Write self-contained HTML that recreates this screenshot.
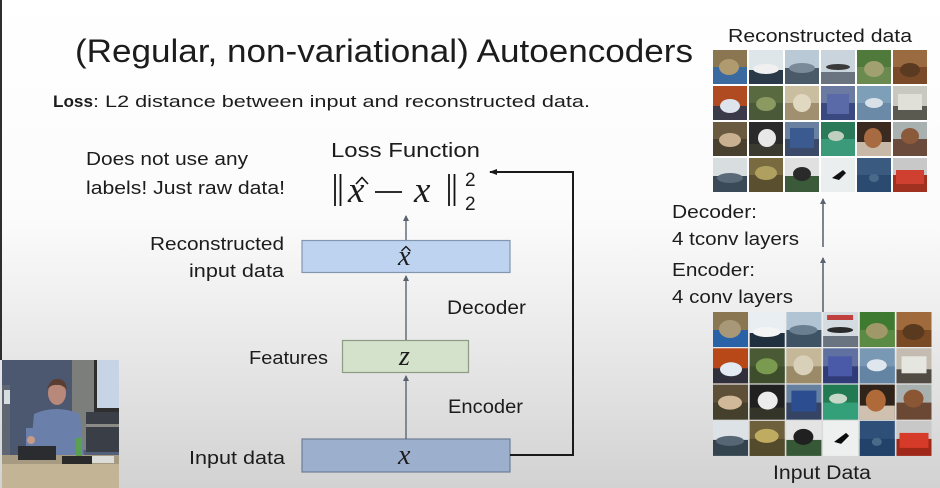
<!DOCTYPE html>
<html><head><meta charset="utf-8">
<style>
html,body{margin:0;padding:0;background:#fff;}
svg{display:block;}
text{font-family:"Liberation Sans",sans-serif;fill:#1c1c1c;}
text.m{font-family:"Liberation Serif",serif;font-style:italic;}
</style></head>
<body>
<svg width="940" height="488" viewBox="0 0 940 488" xmlns="http://www.w3.org/2000/svg">
<defs>
<linearGradient id="bg" x1="0" y1="0" x2="0" y2="1">
<stop offset="0" stop-color="#ffffff"/>
<stop offset="0.45" stop-color="#fbfbfb"/>
<stop offset="0.7" stop-color="#e9e9e9"/>
<stop offset="1" stop-color="#d2d2d2"/>
</linearGradient>
<marker id="ah" markerWidth="6" markerHeight="6" refX="5" refY="3" orient="auto" markerUnits="userSpaceOnUse">
<path d="M0,0 L6,3 L0,6 z" fill="#5a6470"/>
</marker>
<marker id="ah2" markerWidth="8" markerHeight="8" refX="7" refY="4" orient="auto" markerUnits="userSpaceOnUse">
<path d="M0,1 L8,4 L0,7 z" fill="#1a1a1a"/>
</marker>
</defs>
<rect x="0" y="0" width="940" height="488" fill="url(#bg)"/>
<rect x="0" y="0" width="2" height="360" fill="#2e2e2e"/>

<!-- Title -->
<text x="75" y="62" font-size="32" textLength="618" lengthAdjust="spacingAndGlyphs" fill="#222">(Regular, non-variational) Autoencoders</text>
<text x="53" y="107" font-size="17" font-weight="bold" textLength="40" lengthAdjust="spacingAndGlyphs">Loss</text>
<text x="93" y="107" font-size="17" textLength="497" lengthAdjust="spacingAndGlyphs">: L2 distance between input and reconstructed data.</text>

<text x="86" y="165" font-size="18" textLength="162" lengthAdjust="spacingAndGlyphs">Does not use any</text>
<text x="86" y="194" font-size="18" textLength="199" lengthAdjust="spacingAndGlyphs">labels! Just raw data!</text>

<text x="331" y="157" font-size="20" textLength="149" lengthAdjust="spacingAndGlyphs">Loss Function</text>

<!-- Formula -->
<g stroke="#111" stroke-width="1.8">
<line x1="335" y1="174" x2="335" y2="206"/>
<line x1="340.5" y1="174" x2="340.5" y2="206"/>
<line x1="449" y1="174" x2="449" y2="206"/>
<line x1="454.5" y1="174" x2="454.5" y2="206"/>
<line x1="375" y1="192" x2="402" y2="192"/>
</g>
<text class="m" x="348" y="202" font-size="37" fill="#111">x</text>
<path d="M356,184 L362,177.5 L368,184" fill="none" stroke="#111" stroke-width="1.6"/>
<text class="m" x="414" y="202" font-size="37" fill="#111">x</text>
<text x="465" y="186" font-size="19" fill="#111">2</text>
<text x="465" y="210" font-size="19" fill="#111">2</text>

<!-- Labels left -->
<text x="150" y="250" font-size="18" textLength="134" lengthAdjust="spacingAndGlyphs">Reconstructed</text>
<text x="189" y="277" font-size="18" textLength="95" lengthAdjust="spacingAndGlyphs">input data</text>
<text x="249" y="364" font-size="18" textLength="79" lengthAdjust="spacingAndGlyphs">Features</text>
<text x="189" y="464" font-size="18" textLength="96" lengthAdjust="spacingAndGlyphs">Input data</text>
<text x="447" y="314" font-size="19" textLength="79" lengthAdjust="spacingAndGlyphs">Decoder</text>
<text x="448" y="413" font-size="19" textLength="75" lengthAdjust="spacingAndGlyphs">Encoder</text>

<!-- Boxes -->
<rect x="302" y="240.5" width="208" height="32" fill="#bdd3f0" stroke="#8396b0" stroke-width="1.2"/>
<text class="m" x="398" y="265" font-size="28" fill="#111">x</text>
<path d="M401.5,251 L406,246.5 L410.5,251" fill="none" stroke="#111" stroke-width="1.3"/>
<rect x="342.5" y="340.5" width="126" height="32" fill="#d4e2cb" stroke="#8c9c84" stroke-width="1.2"/>
<text class="m" x="399" y="365" font-size="28" fill="#111">z</text>
<rect x="302" y="439" width="208" height="33" fill="#9cafcc" stroke="#6f7e95" stroke-width="1.2"/>
<text class="m" x="398" y="464" font-size="28" fill="#111">x</text>

<!-- Connectors -->
<g stroke="#5a6470" stroke-width="1.4" fill="none">
<line x1="406" y1="439" x2="406" y2="376" marker-end="url(#ah)"/>
<line x1="406" y1="340" x2="406" y2="276" marker-end="url(#ah)"/>
<line x1="406" y1="240" x2="406" y2="216" marker-end="url(#ah)"/>
</g>
<path d="M510,455 L573,455 L573,172 L490,172" fill="none" stroke="#1a1a1a" stroke-width="2" marker-end="url(#ah2)"/>

<!-- Right side texts -->
<text x="728" y="42" font-size="18" textLength="184" lengthAdjust="spacingAndGlyphs">Reconstructed data</text>
<text x="672" y="218" font-size="18" textLength="85" lengthAdjust="spacingAndGlyphs">Decoder:</text>
<text x="672" y="245" font-size="18" textLength="127" lengthAdjust="spacingAndGlyphs">4 tconv layers</text>
<text x="672" y="276" font-size="18" textLength="83" lengthAdjust="spacingAndGlyphs">Encoder:</text>
<text x="672" y="303" font-size="18" textLength="121" lengthAdjust="spacingAndGlyphs">4 conv layers</text>
<text x="773" y="479" font-size="19" textLength="98" lengthAdjust="spacingAndGlyphs">Input Data</text>
<g stroke="#4a5260" stroke-width="1.4" fill="none">
<line x1="823" y1="247" x2="823" y2="199" marker-end="url(#ah)"/>
<line x1="823" y1="312" x2="823" y2="258" marker-end="url(#ah)"/>
</g>

<!-- Reconstructed grid -->
<g>
<g transform="translate(713,50)"><rect width="34" height="34" fill="#8a7650"/><rect y="17" width="34" height="17" fill="#3a6aa0"/><ellipse cx="16" cy="17" rx="10" ry="8" fill="#b09a70"/></g>
<g transform="translate(749,50)"><rect width="34" height="34" fill="#dfe6ea"/><rect y="20" width="34" height="14" fill="#2a3a48"/><ellipse cx="17" cy="19" rx="13" ry="5" fill="#f0f0f0"/></g>
<g transform="translate(785,50)"><rect width="34" height="34" fill="#b9c9d6"/><rect y="18" width="34" height="16" fill="#4a5a68"/><ellipse cx="17" cy="18" rx="13" ry="5" fill="#7a8a98"/></g>
<g transform="translate(821,50)"><rect width="34" height="34" fill="#c9d4dc"/><rect y="22" width="34" height="12" fill="#6a7480"/><ellipse cx="17" cy="17" rx="12" ry="3" fill="#3a3a3a"/></g>
<g transform="translate(857,50)"><rect width="34" height="34" fill="#4f7a3c"/><rect y="17" width="34" height="17" fill="#6a8a50"/><ellipse cx="17" cy="19" rx="10" ry="8" fill="#a0a070"/></g>
<g transform="translate(893,50)"><rect width="34" height="34" fill="#9a6a40"/><rect y="17" width="34" height="17" fill="#7a4a28"/><ellipse cx="17" cy="20" rx="10" ry="7" fill="#5a3a20"/></g>
<g transform="translate(713,86)"><rect width="34" height="34" fill="#b04a20"/><rect y="20" width="34" height="14" fill="#3a3a48"/><ellipse cx="17" cy="20" rx="10" ry="7" fill="#dde4ee"/></g>
<g transform="translate(749,86)"><rect width="34" height="34" fill="#5a6a40"/><rect y="17" width="34" height="17" fill="#4a5a38"/><ellipse cx="17" cy="18" rx="10" ry="7" fill="#8a9a60"/></g>
<g transform="translate(785,86)"><rect width="34" height="34" fill="#c9bea0"/><rect y="17" width="34" height="17" fill="#a09070"/><ellipse cx="17" cy="17" rx="9" ry="9" fill="#e0d8c0"/></g>
<g transform="translate(821,86)"><rect width="34" height="34" fill="#6a7aa0"/><rect y="17" width="34" height="17" fill="#3a4a80"/><rect x="6" y="8" width="22" height="20" fill="#5a6aa8"/></g>
<g transform="translate(857,86)"><rect width="34" height="34" fill="#7d9fb8"/><rect y="17" width="34" height="17" fill="#6a8aa8"/><ellipse cx="17" cy="17" rx="9" ry="5" fill="#d8e0e8"/></g>
<g transform="translate(893,86)"><rect width="34" height="34" fill="#c8c8c0"/><rect y="20" width="34" height="14" fill="#5a5a50"/><rect x="5" y="8" width="24" height="16" fill="#e0e0d8"/></g>
<g transform="translate(713,122)"><rect width="34" height="34" fill="#6a5a40"/><rect y="17" width="34" height="17" fill="#4a4030"/><ellipse cx="17" cy="18" rx="11" ry="7" fill="#c8b090"/></g>
<g transform="translate(749,122)"><rect width="34" height="34" fill="#2a2a2a"/><rect y="22" width="34" height="12" fill="#3a3a30"/><ellipse cx="18" cy="16" rx="9" ry="9" fill="#e8e8e8"/></g>
<g transform="translate(785,122)"><rect width="34" height="34" fill="#6a80a0"/><rect y="17" width="34" height="17" fill="#3a4a68"/><rect x="5" y="6" width="24" height="20" fill="#3a5a90"/></g>
<g transform="translate(821,122)"><rect width="34" height="34" fill="#2a7a5a"/><rect y="17" width="34" height="17" fill="#3a9a7a"/><ellipse cx="15" cy="14" rx="8" ry="5" fill="#c0d0c0"/></g>
<g transform="translate(857,122)"><rect width="34" height="34" fill="#3a2a20"/><rect y="20" width="34" height="14" fill="#c8b8a8"/><ellipse cx="16" cy="16" rx="9" ry="10" fill="#a86a40"/></g>
<g transform="translate(893,122)"><rect width="34" height="34" fill="#a8b0b0"/><rect y="17" width="34" height="17" fill="#6a4a3a"/><ellipse cx="17" cy="14" rx="9" ry="8" fill="#8a5a3a"/></g>
<g transform="translate(713,158)"><rect width="34" height="34" fill="#d8dde0"/><rect y="18" width="34" height="16" fill="#3a4a58"/><ellipse cx="17" cy="20" rx="13" ry="5" fill="#5a6a78"/></g>
<g transform="translate(749,158)"><rect width="34" height="34" fill="#7a6a40"/><rect y="17" width="34" height="17" fill="#5a5030"/><ellipse cx="17" cy="15" rx="11" ry="7" fill="#b0a060"/></g>
<g transform="translate(785,158)"><rect width="34" height="34" fill="#e0e0e0"/><rect y="18" width="34" height="16" fill="#3a5a3a"/><ellipse cx="17" cy="16" rx="9" ry="7" fill="#2a2a2a"/></g>
<g transform="translate(821,158)"><rect width="34" height="34" fill="#eaeeee"/><path d="M11,20 L22,12 L25,15 L18,22 z" fill="#111"/></g>
<g transform="translate(857,158)"><rect width="34" height="34" fill="#3a5a80"/><rect y="17" width="34" height="17" fill="#2a4a70"/><ellipse cx="17" cy="20" rx="5" ry="4" fill="#4a6a8a"/></g>
<g transform="translate(893,158)"><rect width="34" height="34" fill="#c8c8c8"/><rect y="17" width="34" height="17" fill="#a03020"/><rect x="3" y="12" width="28" height="14" fill="#d04030"/></g>
</g>

<!-- Input grid -->
<g>
<g transform="translate(713,312)"><rect width="35" height="35" fill="#8a7650"/><rect y="18" width="35" height="17" fill="#2a62a8"/><ellipse cx="17" cy="17" rx="11" ry="9" fill="#a89878"/></g>
<g transform="translate(749.7,312)"><rect width="35" height="35" fill="#e8eef2"/><rect y="21" width="35" height="14" fill="#20303e"/><ellipse cx="17" cy="20" rx="14" ry="5" fill="#f4f4f4"/></g>
<g transform="translate(786.4,312)"><rect width="35" height="35" fill="#b0c4d4"/><rect y="18" width="35" height="17" fill="#3e5464"/><ellipse cx="17" cy="18" rx="14" ry="5" fill="#6a8090"/></g>
<g transform="translate(823.1,312)"><rect width="35" height="35" fill="#d4dce2"/><rect y="24" width="35" height="11" fill="#6a7480"/><rect x="4" y="3" width="26" height="5" fill="#c04040"/><ellipse cx="17" cy="18" rx="13" ry="3" fill="#2a2a2a"/></g>
<g transform="translate(859.8,312)"><rect width="35" height="35" fill="#3e7a30"/><rect y="18" width="35" height="17" fill="#5a8a44"/><ellipse cx="17" cy="19" rx="11" ry="8" fill="#a09868"/></g>
<g transform="translate(896.5,312)"><rect width="35" height="35" fill="#a06a3c"/><rect y="18" width="35" height="17" fill="#7a4a24"/><ellipse cx="17" cy="20" rx="11" ry="8" fill="#5a3a1e"/></g>
<g transform="translate(713,348.3)"><rect width="35" height="35" fill="#b84818"/><rect y="20" width="35" height="15" fill="#30303c"/><ellipse cx="18" cy="21" rx="11" ry="7" fill="#e4eaf2"/></g>
<g transform="translate(749.7,348.3)"><rect width="35" height="35" fill="#4a5a34"/><rect y="18" width="35" height="17" fill="#3e4e2c"/><ellipse cx="17" cy="18" rx="11" ry="8" fill="#7a9a50"/></g>
<g transform="translate(786.4,348.3)"><rect width="35" height="35" fill="#c4b898"/><rect y="18" width="35" height="17" fill="#9a8a68"/><ellipse cx="17" cy="17" rx="10" ry="10" fill="#d8d0b8"/></g>
<g transform="translate(823.1,348.3)"><rect width="35" height="35" fill="#6070a0"/><rect y="18" width="35" height="17" fill="#303c78"/><rect x="5" y="8" width="24" height="20" fill="#4a5aa8"/></g>
<g transform="translate(859.8,348.3)"><rect width="35" height="35" fill="#7898b4"/><rect y="18" width="35" height="17" fill="#6484a4"/><ellipse cx="17" cy="17" rx="10" ry="6" fill="#e0e6ee"/></g>
<g transform="translate(896.5,348.3)"><rect width="35" height="35" fill="#c4bcb0"/><rect y="21" width="35" height="14" fill="#504c44"/><rect x="5" y="8" width="25" height="17" fill="#e6e6e0"/></g>
<g transform="translate(713,384.6)"><rect width="35" height="35" fill="#5e5038"/><rect y="18" width="35" height="17" fill="#44402c"/><ellipse cx="17" cy="18" rx="12" ry="7" fill="#d0b898"/></g>
<g transform="translate(749.7,384.6)"><rect width="35" height="35" fill="#202020"/><rect y="23" width="35" height="12" fill="#343428"/><ellipse cx="18" cy="16" rx="10" ry="9" fill="#ececec"/></g>
<g transform="translate(786.4,384.6)"><rect width="35" height="35" fill="#6680a0"/><rect y="18" width="35" height="17" fill="#344462"/><rect x="5" y="6" width="25" height="21" fill="#2c4e90"/></g>
<g transform="translate(823.1,384.6)"><rect width="35" height="35" fill="#227a52"/><rect y="18" width="35" height="17" fill="#34a07a"/><ellipse cx="15" cy="14" rx="9" ry="5" fill="#c8d8c8"/></g>
<g transform="translate(859.8,384.6)"><rect width="35" height="35" fill="#30241a"/><rect y="21" width="35" height="14" fill="#d0c0b0"/><ellipse cx="16" cy="16" rx="10" ry="11" fill="#b06a3a"/></g>
<g transform="translate(896.5,384.6)"><rect width="35" height="35" fill="#a8b0b0"/><rect y="18" width="35" height="17" fill="#6a4834"/><ellipse cx="17" cy="14" rx="10" ry="9" fill="#8a5634"/></g>
<g transform="translate(713,420.9)"><rect width="35" height="35" fill="#dce2e6"/><rect y="19" width="35" height="16" fill="#34444e"/><ellipse cx="17" cy="20" rx="14" ry="5" fill="#566674"/></g>
<g transform="translate(749.7,420.9)"><rect width="35" height="35" fill="#6e603a"/><rect y="18" width="35" height="17" fill="#544a2c"/><ellipse cx="17" cy="15" rx="12" ry="7" fill="#c0ac60"/></g>
<g transform="translate(786.4,420.9)"><rect width="35" height="35" fill="#e4e4e4"/><rect y="19" width="35" height="16" fill="#365836"/><ellipse cx="17" cy="16" rx="10" ry="8" fill="#202020"/></g>
<g transform="translate(823.1,420.9)"><rect width="35" height="35" fill="#eef0f0"/><path d="M11,21 L23,12 L26,15 L18,23 z" fill="#0a0a0a"/></g>
<g transform="translate(859.8,420.9)"><rect width="35" height="35" fill="#2e5078"/><rect y="18" width="35" height="17" fill="#22426a"/><ellipse cx="17" cy="21" rx="5" ry="4" fill="#4a6a8a"/></g>
<g transform="translate(896.5,420.9)"><rect width="35" height="35" fill="#c8c8c8"/><rect y="18" width="35" height="17" fill="#a02818"/><rect x="3" y="12" width="29" height="15" fill="#d63a28"/></g>
</g>

<!-- Speaker video -->
<g>
<rect x="2" y="360" width="117" height="128" fill="#55607a"/>
<rect x="2" y="360" width="70" height="100" fill="#4c5870"/>
<rect x="2" y="385" width="8" height="70" fill="#5e6672"/>
<rect x="4" y="390" width="6" height="14" fill="#d8dde0"/>
<rect x="72" y="360" width="24" height="90" fill="#7c7e7c"/>
<rect x="94" y="360" width="25" height="52" fill="#2e2e2e"/>
<rect x="97" y="360" width="22" height="48" fill="#c6d4e6"/>
<rect x="86" y="412" width="33" height="40" fill="#3a3e46"/>
<rect x="86" y="424" width="33" height="3" fill="#8a8a86"/>
<path d="M34,414 Q56,404 80,414 L84,458 L30,458 z" fill="#6a80aa"/>
<ellipse cx="57" cy="393" rx="9" ry="12" fill="#b8897a"/>
<path d="M47,390 Q50,378 58,379 Q66,379 67,390 Q62,384 57,385 Q51,384 47,390 z" fill="#5a3e32"/>
<rect x="26" y="428" width="10" height="22" fill="#6a80aa"/>
<ellipse cx="31" cy="440" rx="4" ry="4" fill="#c89a88"/>
<rect x="2" y="455" width="117" height="33" fill="#a69a80"/>
<rect x="2" y="464" width="117" height="24" fill="#c2b494"/>
<rect x="18" y="446" width="38" height="14" fill="#2a2c30"/>
<rect x="76" y="438" width="6" height="24" fill="#5aa050"/>
<rect x="62" y="456" width="30" height="8" fill="#2a2a2a"/>
<rect x="92" y="456" width="22" height="7" fill="#dcdcd8"/>
</g>
</svg>
</body></html>
